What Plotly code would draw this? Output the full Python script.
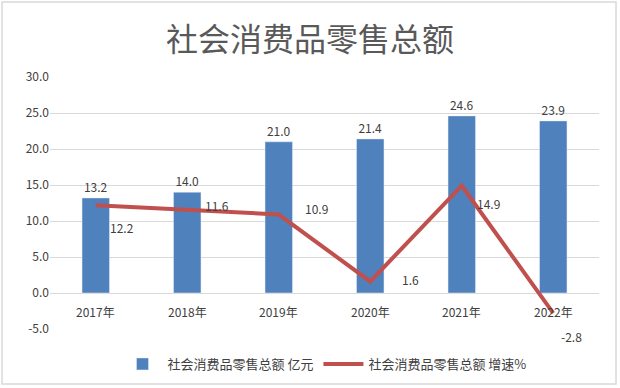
import plotly.graph_objects as go

years = ["2017年", "2018年", "2019年", "2020年", "2021年", "2022年"]
sales = [13.2, 14.0, 21.0, 21.4, 24.6, 23.9]
growth = [12.2, 11.6, 10.9, 1.6, 14.9, -2.8]
y_ticks = [-5, 0, 5, 10, 15, 20, 25, 30]

title_text = "社会消费品零售总额"
bar_name = "社会消费品零售总额 亿元"
line_name = "社会消费品零售总额 增速%"

# label offsets (px) for growth labels, as in the reference
gx = [26, 30, 38, 40, 27, 18]
gy = [-22, 4, 6, 2, -18, -23]

FONT = "Noto Sans CJK SC, Microsoft YaHei, sans-serif"
TXT = "#404040"

fig = go.Figure()
fig.add_trace(go.Bar(
    x=years, y=sales, name=bar_name, marker_color="#4F81BD", width=0.3,
    text=[f"{v:.1f}" for v in sales], textposition="outside",
    textfont=dict(size=12, color=TXT, family=FONT), cliponaxis=False,
))
fig.add_trace(go.Scatter(
    x=years, y=growth, name=line_name, mode="lines",
    line=dict(color="#C0504D", width=4),
))

annotations = []
for i, (yr, g) in enumerate(zip(years, growth)):
    annotations.append(dict(x=yr, y=g, xref="x", yref="y", text=f"{g:.1f}",
                            showarrow=False, xshift=gx[i], yshift=gy[i],
                            font=dict(size=12, color=TXT, family=FONT)))
    annotations.append(dict(x=yr, y=0, xref="x", yref="y", text=yr,
                            showarrow=False, yshift=-18,
                            font=dict(size=12, color=TXT, family=FONT)))

L, R, T, B, W, H = 50, 21, 77, 59, 620, 388
pw, ph = W - L - R, H - T - B
def px(x): return (x - L) / pw
def py(y): return (H - B - y) / ph

fig.update_layout(
    width=W, height=H, autosize=False,
    margin=dict(l=L, r=R, t=T, b=B, autoexpand=False),
    paper_bgcolor="white", plot_bgcolor="white",
    title=dict(text=title_text, x=0.5, xanchor="center", y=1 - 40 / H, yanchor="middle",
               font=dict(size=32, color="#595959", family="Noto Sans CJK SC, serif")),
    showlegend=True,
    legend=dict(orientation="h", x=0.5, xanchor="center", y=py(364), yanchor="middle",
                font=dict(size=13, color=TXT, family=FONT), traceorder="normal", itemwidth=40),
    xaxis=dict(type="category", showticklabels=False, showgrid=False, zeroline=False,
               showline=False, fixedrange=True, automargin=False),
    yaxis=dict(range=[-5, 30], tickvals=y_ticks, ticktext=[f"{v:.1f}" for v in y_ticks],
               showgrid=True, gridcolor="#D9D9D9", gridwidth=1, zeroline=False, automargin=False,
               tickfont=dict(size=12, color=TXT, family=FONT), ticks="", showline=False),
    bargap=0.7,
    annotations=annotations,
    shapes=[dict(type="rect", xref="paper", yref="paper",
                 x0=px(2), x1=px(616), y0=py(384), y1=py(2),
                 line=dict(color="#D9D9D9", width=1.5), fillcolor="rgba(0,0,0,0)", layer="below")],
)

fig.write_html("out.html", config={"displayModeBar": False},
               post_script="document.body.style.margin='0';")
